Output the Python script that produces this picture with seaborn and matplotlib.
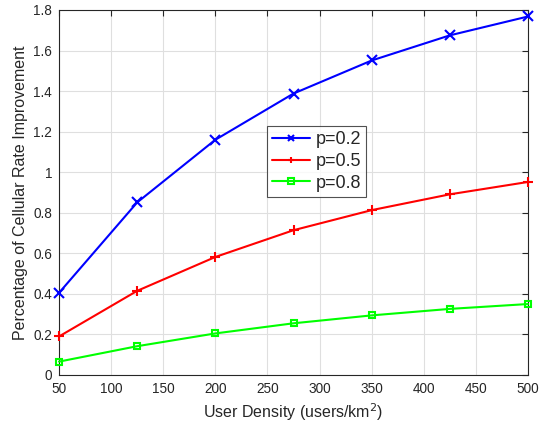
import matplotlib
matplotlib.use("Agg")
import matplotlib.pyplot as plt
import seaborn as sns
import pandas as pd
from matplotlib.ticker import FuncFormatter

density = [50, 125, 200, 275, 350, 425, 500]
p02 = [0.405, 0.851, 1.160, 1.388, 1.551, 1.675, 1.768]
p05 = [0.190, 0.415, 0.582, 0.714, 0.813, 0.891, 0.952]
p08 = [0.066, 0.142, 0.205, 0.255, 0.294, 0.326, 0.350]
labels = ["p=0.2", "p=0.5", "p=0.8"]
colors = ["#0000FF", "#FF0000", "#00FF00"]
markers = ["x", "+", "s"]
x_ticks = [50, 100, 150, 200, 250, 300, 350, 400, 450, 500]
y_ticks = [0, 0.2, 0.4, 0.6, 0.8, 1.0, 1.2, 1.4, 1.6, 1.8]

sns.set_style("white")
plt.rcParams['font.family'] = ['Liberation Sans', 'DejaVu Sans']

fig = plt.figure(figsize=(5.51, 4.33), dpi=100)
ax = fig.add_axes([59/551, 1-375/433, (528-59)/551, (375-10)/433])

for vals, lab, c, m in zip([p02, p05, p08], labels, colors, markers):
    df = pd.DataFrame({"x": density, "y": vals})
    ms = 5 if m == "s" else 6.5
    sns.lineplot(data=df, x="x", y="y", ax=ax, color=c, marker=m, label=lab,
                 lw=1.5, ms=ms, mfc="none", mec=c, mew=1.5, clip_on=False, zorder=3)

ax.set_xlim(50, 500)
ax.set_ylim(0, 1.8)
ax.set_xticks(x_ticks)
ax.set_yticks(y_ticks)
ax.yaxis.set_major_formatter(FuncFormatter(lambda v, p: f"{v:g}"))
ax.grid(True, color="#dfdfdf", lw=0.8)
ax.tick_params(direction="in", length=4, width=0.8, colors="#262626",
               labelsize=9.8, top=True, right=True, pad=5)
for s in ax.spines.values():
    s.set_visible(True)
    s.set_color("#262626")
    s.set_linewidth(0.8)
ax.set_xlabel("User Density (users/km$^2$)", fontsize=11.5, color="#262626")
ax.set_ylabel("Percentage of Cellular Rate Improvement", fontsize=11.5, color="#262626")

leg = ax.legend(loc="upper left", bbox_to_anchor=(0.443, 0.682), fontsize=13,
                frameon=True, fancybox=False, edgecolor="#262626",
                handlelength=2.1, handletextpad=0.3, borderpad=0.3,
                labelspacing=0.25, borderaxespad=0)
leg.get_frame().set_linewidth(0.8)
for h in leg.legend_handles:
    h.set_markersize(5 if h.get_marker() == "s" else 6)
    h.set_markersize(h.get_markersize() * 0.8)

fig.savefig("out.png", dpi=100)
